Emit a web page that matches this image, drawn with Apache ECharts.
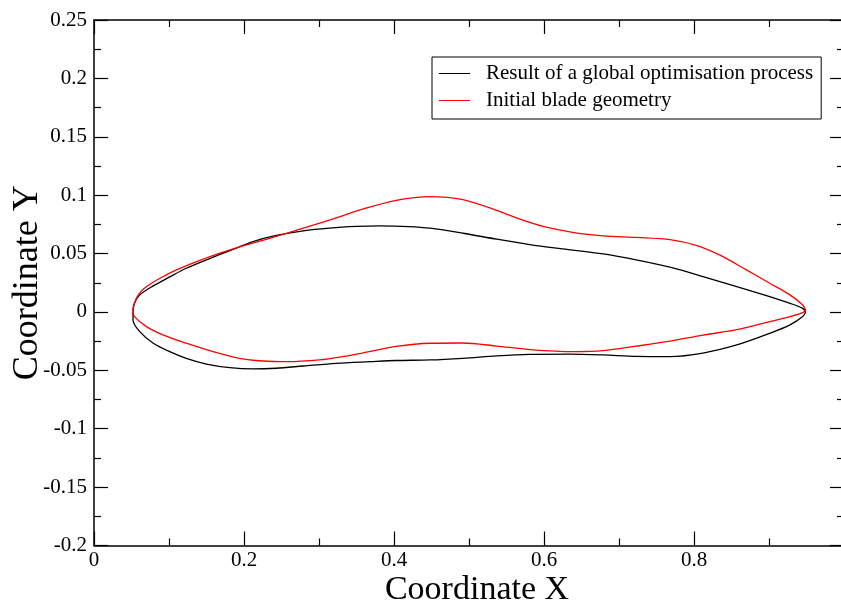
<!DOCTYPE html>
<html>
<head>
<meta charset="utf-8">
<script src="https://cdn.jsdelivr.net/npm/echarts@6/dist/echarts.min.js"></script>
<style>
html,body{margin:0;padding:0;background:#fff;overflow:hidden;}
#c{width:841px;height:603px;}
</style>
</head>
<body>
<div id="c"></div>
<script>
// Optimised blade (closed contour: TE -> upper -> LE -> lower -> TE)
const optX = [0.949,0.945,0.928,0.901,0.857,0.812,0.768,0.723,0.679,0.625,0.581,0.537,0.492,0.448,0.420,0.380,0.350,0.314,0.279,0.243,0.212,0.181,0.150,0.123,0.101,0.079,0.061,0.054,0.052,
              0.052,0.061,0.079,0.101,0.123,0.150,0.181,0.212,0.243,0.279,0.323,0.368,0.403,0.448,0.492,0.537,0.581,0.634,0.679,0.723,0.768,0.812,0.857,0.901,0.928,0.945,0.949];
const optY = [0,0.0031,0.0074,0.0131,0.0217,0.0303,0.0383,0.0446,0.0497,0.0540,0.0577,0.0623,0.0674,0.0717,0.0731,0.0737,0.0732,0.0718,0.0695,0.0655,0.0602,0.0525,0.0446,0.0374,0.0300,0.0223,0.0146,0.0074,0,
              -0.0069,-0.0169,-0.0268,-0.0340,-0.0397,-0.0446,-0.0477,-0.0488,-0.0482,-0.0463,-0.0440,-0.0426,-0.0416,-0.0411,-0.0397,-0.0377,-0.0364,-0.0361,-0.0368,-0.0380,-0.0382,-0.0352,-0.0283,-0.0183,-0.0111,-0.0040,0];
// Initial blade
const iniX = [0.949,0.945,0.928,0.901,0.870,0.834,0.803,0.768,0.723,0.679,0.640,0.600,0.570,0.537,0.492,0.448,0.403,0.359,0.318,0.279,0.234,0.203,0.168,0.137,0.110,0.088,0.070,0.059,0.053,0.052,
              0.054,0.070,0.092,0.123,0.159,0.194,0.225,0.257,0.301,0.330,0.359,0.403,0.448,0.492,0.537,0.581,0.640,0.679,0.723,0.768,0.812,0.857,0.901,0.928,0.945,0.949];
const iniY = [0.0017,0.0060,0.0146,0.0246,0.0360,0.0488,0.0570,0.0620,0.0638,0.0652,0.0680,0.0730,0.0790,0.0870,0.0962,0.0988,0.0956,0.0882,0.0794,0.0717,0.0631,0.0574,0.0503,0.0431,0.0360,0.0289,0.0217,0.0146,0.0060,0.0003,
              -0.0040,-0.0126,-0.0197,-0.0268,-0.0340,-0.0397,-0.0420,-0.0426,-0.0411,-0.0385,-0.0350,-0.0295,-0.0268,-0.0266,-0.0292,-0.0322,-0.0340,-0.0332,-0.0293,-0.0250,-0.0198,-0.0152,-0.0083,-0.0040,-0.0006,0.0017];

const seriesNames = ['Result of a global optimisation process', 'Initial blade geometry'];
const xTitle = 'Coordinate X';
const yTitle = 'Coordinate Y';

const zip = (xs, ys) => xs.map((x, i) => [x, ys[i]]);
const FONT = '"Liberation Serif", "Times New Roman", serif';

const tickCommon = () => ({
  axisLine: {show: true, onZero: false, lineStyle: {color: '#000', width: 1.5}},
  axisTick: {show: true, inside: true, length: 14, lineStyle: {color: '#000', width: 1.2}},
  minorTick: {show: true, splitNumber: 2, length: 7, lineStyle: {color: '#000', width: 1.2}},
  splitLine: {show: false},
  minorSplitLine: {show: false}
});

const chart = echarts.init(document.getElementById('c'), null, {renderer: 'canvas'});
chart.setOption({
  animation: false,
  backgroundColor: '#fff',
  grid: {left: 94, top: 20, width: 750, height: 525.5, containLabel: false, outerBoundsMode: 'none'},
  legend: {
    orient: 'vertical',
    left: 432, top: 57,
    padding: [6, 8, 8, 7],
    itemGap: 6,
    itemWidth: 31, itemHeight: 14,
    borderColor: '#000', borderWidth: 1,
    backgroundColor: '#fff',
    textStyle: {fontFamily: FONT, fontSize: 21, color: '#000', padding: [0, 0, 0, 11]},
    data: seriesNames.map(n => ({name: n, icon: 'path://M0,0 L31,0 L31,1 L0,1 Z'}))
  },
  xAxis: [
    Object.assign({
      type: 'value', min: 0, max: 1, interval: 0.2, position: 'bottom',
      name: xTitle, nameLocation: 'middle', nameGap: 28, nameMoveOverlap: false,
      nameTextStyle: {fontFamily: FONT, fontSize: 34, color: '#000', padding: [0, 0, 0, 16]},
      axisLabel: {fontFamily: FONT, fontSize: 21, color: '#000', margin: 4,
        formatter: v => (v >= 0.999 ? '' : String(+v.toFixed(2)))}
    }, tickCommon()),
    Object.assign({
      type: 'value', min: 0, max: 1, interval: 0.2, position: 'top',
      axisLabel: {show: false}
    }, tickCommon())
  ],
  yAxis: [
    Object.assign({
      type: 'value', min: -0.2, max: 0.25, interval: 0.05, position: 'left',
      name: yTitle, nameLocation: 'middle', nameGap: 48, nameRotate: 90, nameMoveOverlap: false,
      nameTextStyle: {fontFamily: FONT, fontSize: 36, color: '#000'},
      axisLabel: {fontFamily: FONT, fontSize: 21, color: '#000', margin: 7,
        formatter: v => String(+v.toFixed(3))}
    }, tickCommon()),
    Object.assign({
      type: 'value', min: -0.2, max: 0.25, interval: 0.05, position: 'right',
      axisLabel: {show: false}
    }, tickCommon())
  ],
  series: [
    {
      name: seriesNames[0], type: 'line', xAxisIndex: 0, yAxisIndex: 0,
      data: zip(optX, optY), showSymbol: false, symbol: 'none', smooth: 0.3,
      lineStyle: {color: '#000', width: 1.3}, itemStyle: {color: '#000'}
    },
    {
      name: seriesNames[1], type: 'line', xAxisIndex: 0, yAxisIndex: 0,
      data: zip(iniX, iniY), showSymbol: false, symbol: 'none', smooth: 0.3,
      lineStyle: {color: '#ff0000', width: 1.3}, itemStyle: {color: '#ff0000'}
    }
  ]
});
</script>
</body>
</html>
